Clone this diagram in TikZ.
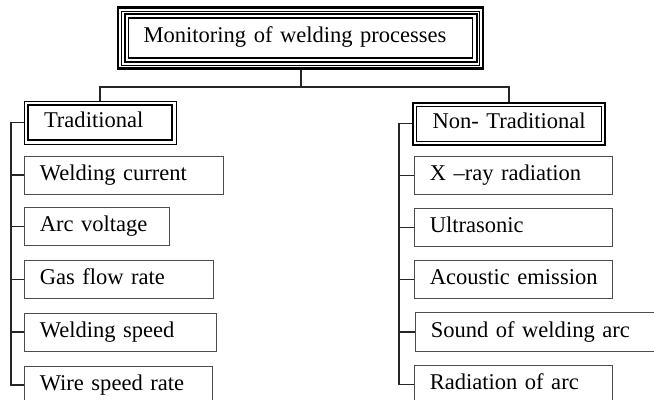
\documentclass[tikz,border=0pt]{standalone}
\usepackage{fontspec}
\setmainfont{Liberation Serif}
\usetikzlibrary{fit}

\begin{document}
\begin{tikzpicture}[x=0.75pt,y=-0.75pt,line join=miter,
  font=\fontsize{16.9}{20}\selectfont,
  leaf/.style={draw=black!70,line width=0.75pt,anchor=west,minimum height=28.5pt,
    inner xsep=11.5pt,inner ysep=0pt,align=left,text height=0.9em,text depth=0.08em,
    execute at begin node={\hbox\bgroup},execute at end node={\egroup}},
  rim/.style={draw,fit=(#1),inner sep=2.25pt},
  link/.style={draw=black!85,line width=1.4pt}]
  \useasboundingbox (0,0) rectangle (654,400);
  % heading with triple rim
  \node[leaf,draw=black,line width=0.9pt,minimum height=30pt,inner xsep=11.25pt,
    text width=235.5pt,text height=0.75em,text depth=0.13em] (mon) at (128,38)
    {Monitoring of welding processes};
  \node[draw,line width=1.35pt,fit=(mon),inner sep=2.55pt] (mon1) {};
  \node[draw,line width=0.7pt,fit=(mon),inner sep=4.8pt] (mon2) {};
  \node[draw,line width=1.8pt,fit=(mon),inner sep=7.4pt] (mon3) {};
  % the two groups
  \node[leaf,draw=black,line width=1.5pt,minimum height=26.25pt,inner xsep=12pt,
    text width=84pt] (trad) at (27,122.5) {Traditional};
  \node[rim=trad,line width=0.75pt] (trad2) {};
  \node[leaf,draw=black,line width=0.75pt,minimum height=26.25pt,inner xsep=12pt,
    text width=114.75pt] (ntrad) at (416,123.5) {Non- Traditional};
  \node[rim=ntrad,line width=1.5pt] (ntrad2) {};
  % traditional
  \node[leaf,text width=126.25pt] (cur) at (24,175) {Welding current};
  \node[leaf,text width=85.75pt] (volt) at (24,226.5) {Arc voltage};
  \node[leaf,text width=118.75pt] (gas) at (24,279.5) {Gas flow rate};
  \node[leaf,text width=121pt] (speed) at (24,332) {Welding speed};
  \node[leaf,text width=118pt] (wire) at (24,385) {Wire speed rate};
  % non-traditional
  \node[leaf,text width=125.5pt] (xray) at (414,175.5) {X –ray radiation};
  \node[leaf,text width=125.5pt] (ultra) at (414,227.5) {Ultrasonic};
  \node[leaf,text width=125.5pt] (acou) at (414,279.5) {Acoustic emission};
  % runs off the right edge
  \node[leaf,draw=none,text width=160pt] (sound) at (415,332) {Sound of welding arc};
  \draw[black!70,line width=0.75pt] (sound.north east) -- (sound.north west)
    -- (sound.south west) -- (sound.south east);
  \node[leaf,text width=125.5pt] (rad) at (414,384.5) {Radiation of arc};
  % connectors
  \coordinate (bar) at (0,87);
  \coordinate (spineL) at (11,0);
  \coordinate (spineR) at (399,0);
  \draw[link] (mon3.south) -- (mon3.south |- bar);
  \draw[link] (trad2.north) -- (trad2.north |- bar) -- (ntrad2.north |- bar) -- (ntrad2.north);
  \draw[link] (trad2.west) -- (spineL |- trad2.west) -- (spineL |- wire.west) -- (wire.west);
  \draw[link] (ntrad2.west) -- (spineR |- ntrad2.west) -- (spineR |- rad.west) -- (rad.west);
  \foreach \n in {cur,volt,gas,speed}
    \draw[link] (spineL |- \n.west) -- (\n.west);
  \foreach \n in {xray,ultra,acou,sound}
    \draw[link] (spineR |- \n.west) -- (\n.west);
\end{tikzpicture}
\end{document}
